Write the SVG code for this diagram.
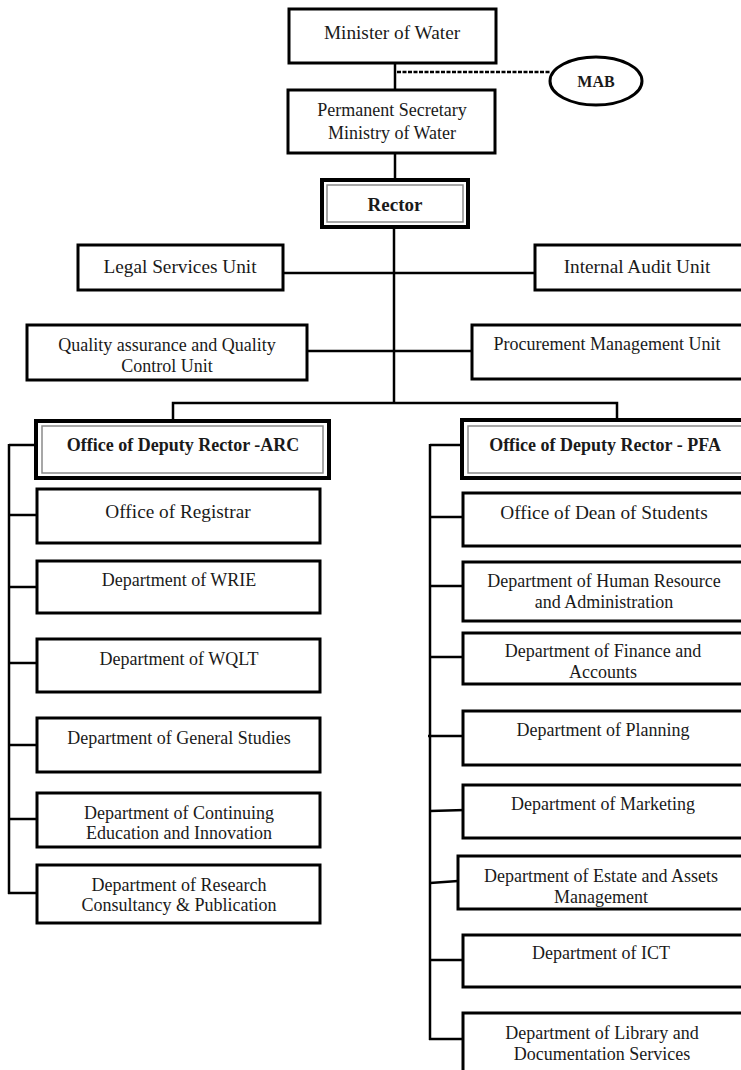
<svg xmlns="http://www.w3.org/2000/svg" width="741" height="1070" viewBox="0 0 741 1070">
<style>
  .box { fill: #fff; stroke: #000; stroke-width: 3; }
  .dbl { fill: #fff; stroke: #000; stroke-width: 4; }
  .inner { fill: none; stroke: #8a8a8a; stroke-width: 1.5; }
  .ln { fill: none; stroke: #000; stroke-width: 2.5; }
  .dot { fill: none; stroke: #000; stroke-width: 2.5; stroke-dasharray: 4 1.5; }
  text { font-family: "Liberation Serif", "Times New Roman", serif; font-size: 18px; fill: #1a1a1a; text-anchor: middle; }
  .big { font-size: 19.3px; }
  .b { font-weight: bold; }
</style>
<rect width="741" height="1070" fill="#fff"/>
<g id="connectors">
  <line class="ln" x1="395" y1="63" x2="395" y2="90"/>
  <line class="dot" x1="397" y1="72" x2="551" y2="72"/>
  <line class="ln" x1="395" y1="153" x2="395" y2="180"/>
  <line class="ln" x1="394" y1="227" x2="394" y2="404"/>
  <line class="ln" x1="283" y1="273" x2="535" y2="273"/>
  <line class="ln" x1="307" y1="351" x2="472" y2="351"/>
  <polyline class="ln" points="173,421 173,403 617,403 617,420"/>
  <line class="ln" x1="9" y1="444" x2="9" y2="894"/>
  <line class="ln" x1="9" y1="445" x2="36" y2="445"/>
  <line class="ln" x1="9" y1="515" x2="37" y2="515"/>
  <line class="ln" x1="9" y1="587" x2="37" y2="587"/>
  <line class="ln" x1="9" y1="663" x2="37" y2="663"/>
  <line class="ln" x1="9" y1="745" x2="37" y2="745"/>
  <line class="ln" x1="9" y1="819" x2="37" y2="819"/>
  <line class="ln" x1="8" y1="893" x2="43" y2="893"/>
  <line class="ln" x1="430" y1="444" x2="430" y2="1040"/>
  <line class="ln" x1="430" y1="445" x2="462" y2="445"/>
  <line class="ln" x1="430" y1="517" x2="463" y2="517"/>
  <line class="ln" x1="430" y1="586" x2="463" y2="586"/>
  <line class="ln" x1="430" y1="657" x2="463" y2="657"/>
  <line class="ln" x1="428" y1="736" x2="465" y2="736"/>
  <line class="ln" x1="430" y1="811" x2="465" y2="810"/>
  <line class="ln" x1="430" y1="883" x2="458" y2="881"/>
  <line class="ln" x1="430" y1="960" x2="465" y2="960"/>
  <line class="ln" x1="429" y1="1039" x2="465" y2="1039"/>
</g>
<g id="minister">
  <rect class="box" x="289" y="9" width="207" height="54"/>
  <text class="big" x="392" y="39">Minister of Water</text>
</g>
<g id="mab">
  <ellipse class="box" cx="596" cy="81" rx="46" ry="24"/>
  <text class="b" x="596" y="87" style="font-size:16px">MAB</text>
</g>
<g id="perm-sec">
  <rect class="box" x="288" y="90" width="207" height="63"/>
  <text x="392" y="116">Permanent Secretary</text>
  <text x="392" y="139">Ministry of Water</text>
</g>
<g id="rector">
  <rect class="dbl" x="322" y="180" width="146" height="47"/>
  <rect class="inner" x="327" y="185" width="136" height="37"/>
  <text class="b" x="395" y="211" style="font-size:19px">Rector</text>
</g>
<g id="legal">
  <rect class="box" x="78" y="245" width="205" height="45"/>
  <text class="big" x="180" y="273">Legal Services Unit</text>
</g>
<g id="audit">
  <rect class="box" x="535" y="245" width="212" height="45"/>
  <text class="big" x="637" y="273">Internal Audit Unit</text>
</g>
<g id="quality">
  <rect class="box" x="27" y="325" width="280" height="55"/>
  <text x="167" y="351">Quality assurance and Quality</text>
  <text x="167" y="372">Control Unit</text>
</g>
<g id="procurement">
  <rect class="box" x="472" y="325" width="275" height="54"/>
  <text x="607" y="350">Procurement Management Unit</text>
</g>
<g id="arc">
  <rect class="dbl" x="36" y="421" width="293" height="57"/>
  <rect class="inner" x="42" y="426" width="281" height="47"/>
  <text class="b" x="183" y="451">Office of Deputy Rector -ARC</text>
</g>
<g id="pfa">
  <rect class="dbl" x="462" y="420" width="290" height="58"/>
  <rect class="inner" x="468" y="426" width="290" height="47"/>
  <text class="b" x="605" y="451">Office of Deputy Rector - PFA</text>
</g>
<g id="registrar">
  <rect class="box" x="37" y="489" width="283" height="54"/>
  <text class="big" x="178" y="518">Office of Registrar</text>
</g>
<g id="wrie">
  <rect class="box" x="37" y="561" width="283" height="52"/>
  <text x="179" y="586">Department of WRIE</text>
</g>
<g id="wqlt">
  <rect class="box" x="37" y="639" width="283" height="53"/>
  <text x="179" y="665">Department of WQLT</text>
</g>
<g id="general">
  <rect class="box" x="37" y="718" width="283" height="54"/>
  <text x="179" y="744">Department of General Studies</text>
</g>
<g id="continuing">
  <rect class="box" x="37" y="793" width="283" height="54"/>
  <text x="179" y="819">Department of Continuing</text>
  <text x="179" y="839">Education and Innovation</text>
</g>
<g id="research">
  <rect class="box" x="37" y="865" width="283" height="58"/>
  <text x="179" y="891">Department of Research</text>
  <text x="179" y="911">Consultancy &amp; Publication</text>
</g>
<g id="dean">
  <rect class="box" x="463" y="493" width="284" height="53"/>
  <text class="big" x="604" y="519">Office of Dean of Students</text>
</g>
<g id="hr">
  <rect class="box" x="463" y="562" width="284" height="59"/>
  <text x="604" y="587">Department of Human Resource</text>
  <text x="604" y="608">and Administration</text>
</g>
<g id="finance">
  <rect class="box" x="463" y="633" width="284" height="51"/>
  <text x="603" y="657">Department of Finance and</text>
  <text x="603" y="678">Accounts</text>
</g>
<g id="planning">
  <rect class="box" x="463" y="711" width="284" height="54"/>
  <text x="603" y="736">Department of Planning</text>
</g>
<g id="marketing">
  <rect class="box" x="463" y="785" width="284" height="53"/>
  <text x="603" y="810">Department of Marketing</text>
</g>
<g id="estate">
  <rect class="box" x="458" y="856" width="289" height="53"/>
  <text x="601" y="882">Department of Estate and Assets</text>
  <text x="601" y="903">Management</text>
</g>
<g id="ict">
  <rect class="box" x="463" y="935" width="284" height="52"/>
  <text x="601" y="959">Department of ICT</text>
</g>
<g id="library">
  <rect class="box" x="463" y="1013" width="284" height="65"/>
  <text x="602" y="1039">Department of Library and</text>
  <text x="602" y="1060">Documentation Services</text>
</g>
</svg>
